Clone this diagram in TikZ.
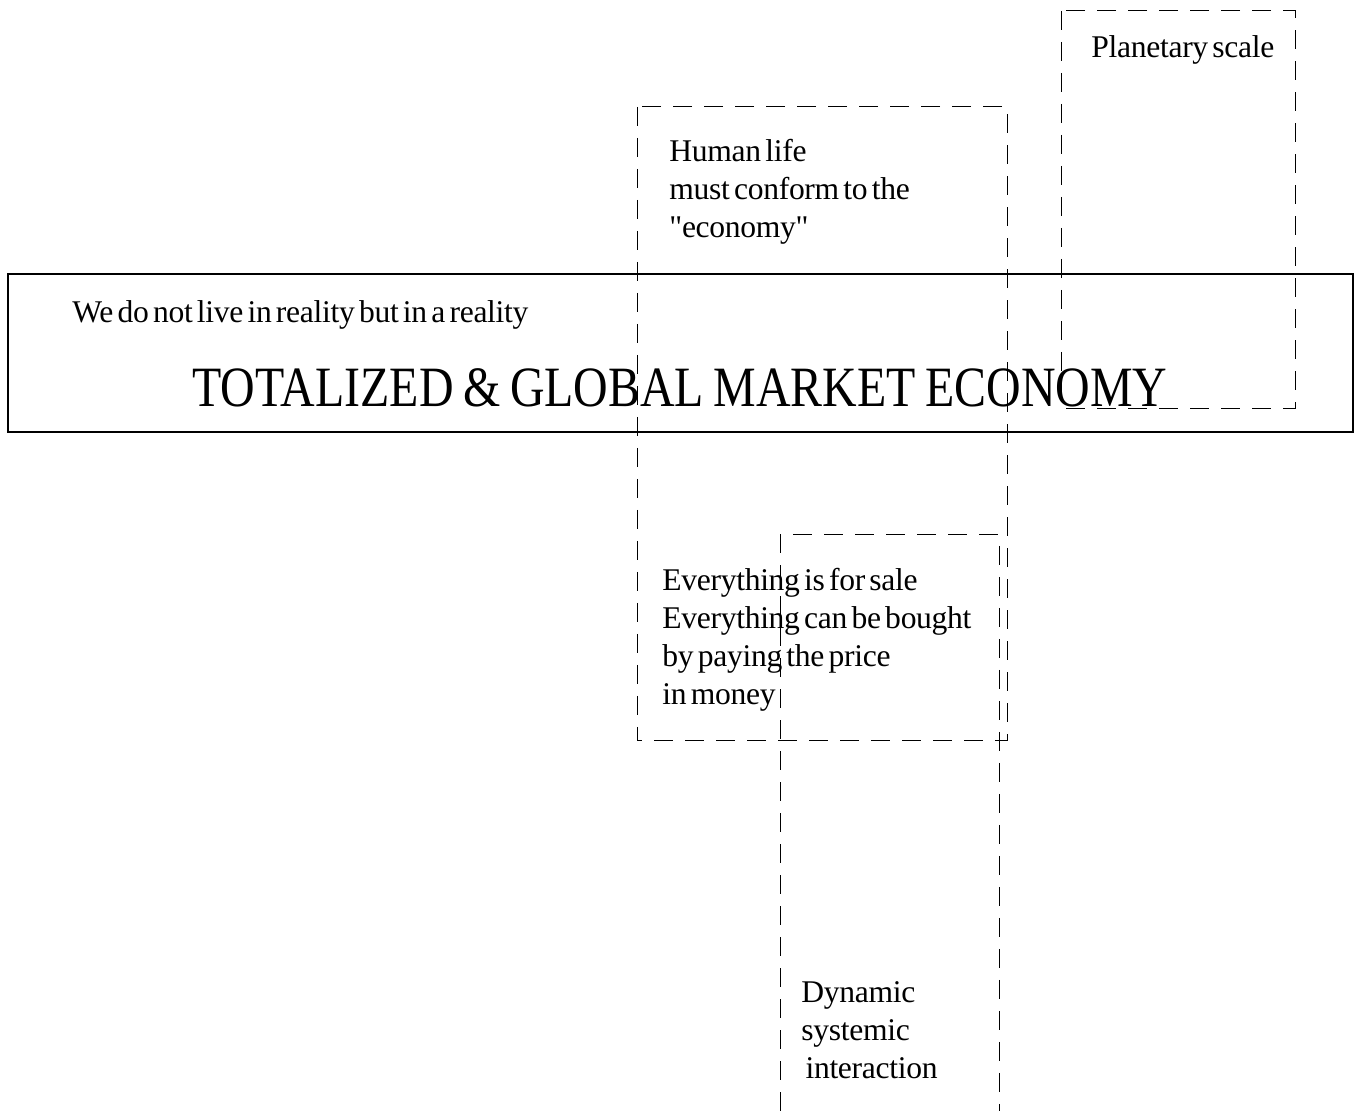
\documentclass[tikz,border=0pt]{standalone}
\usepackage{fontspec}
\setmainfont{Liberation Serif}
\newfontfamily\notefont[LetterSpace=-1, WordSpace=0.55]{Liberation Serif}
\newfontfamily\titlefont[FakeStretch=0.84, WordSpace=0.8]{Liberation Serif}
\usepackage{xcolor}

\begin{document}
\begin{tikzpicture}[x=0.5pt, y=-0.5pt,
    zone/.style={dash pattern=on 9.5pt off 6pt, line width=0.5pt},
    note/.style={anchor=base west, inner sep=0pt, align=left, font=\notefont\fontsize{15.8}{19.15}\selectfont}]
        \useasboundingbox (0, 0) rectangle (1357, 1111);

        \draw[line width=0.6pt] (8, 274) rectangle (1353, 432);

        \draw[zone] (637, 107) rectangle (1007, 741);
        \draw[zone] (1061, 11) rectangle (1295, 409);
        \draw[zone] (780, 1111) -- (780, 535) -- (999, 535) -- (999, 1111);

        \node[note] (reality) at (72, 323) {We do not live in reality but in a reality};
        \node[anchor=base, inner sep=0pt, font=\titlefont\fontsize{28.5}{34}\selectfont] (market) at (680, 407) {TOTALIZED \& GLOBAL MARKET ECONOMY};

        \node[note] (planet) at (1091, 58) {Planetary scale};
        \node[note] (human) at (669, 238) {Human life\\must conform to the\\\symbol{34}economy\symbol{34}};
        \node[note] (sale) at (662, 705) {Everything is for sale\\Everything can be bought\\by paying the price\\in money};
        \node[note] (dynamic) at (801, 1079) {Dynamic\\systemic\\\ interaction};
      \end{tikzpicture}
\end{document}
